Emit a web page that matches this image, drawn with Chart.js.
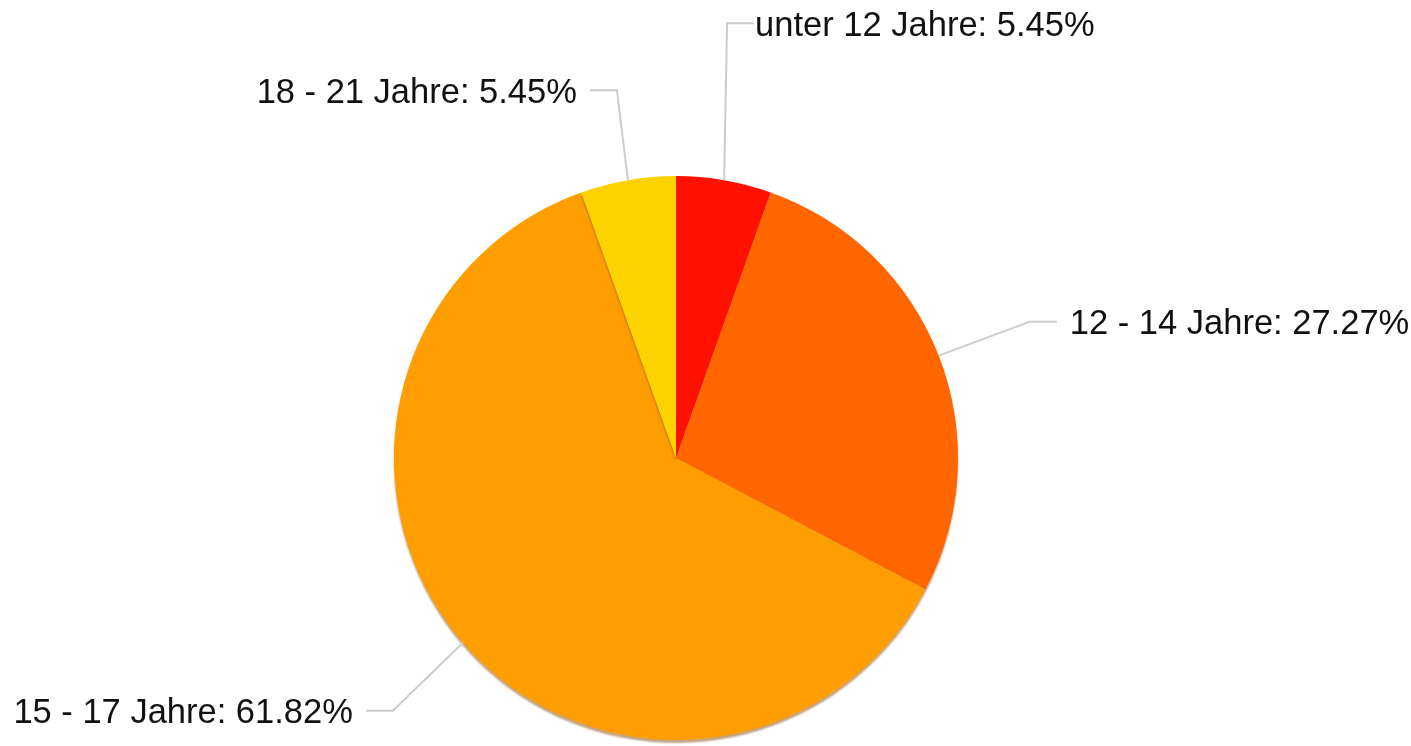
<!DOCTYPE html>
<html>
<head>
<meta charset="utf-8">
<script src="https://cdn.jsdelivr.net/npm/chart.js@4/dist/chart.umd.min.js"></script>
<style>
  html, body { margin: 0; padding: 0; background: #fff; }
  #wrap { width: 1411px; height: 746px; }
</style>
</head>
<body>
<div id="wrap"><canvas id="pie" width="1411" height="746"></canvas></div>
<script>
// counts per age group (55 answers in total)
const categories = ['unter 12 Jahre', '12 - 14 Jahre', '15 - 17 Jahre', '18 - 21 Jahre'];
const counts = [3, 15, 34, 3];
const sliceColors = ['#FF1100', '#FF6600', '#FF9E00', '#FCD200'];

// leader line layout: elbow offset from the slice edge, then gap before the text
const leaderLayout = [
  { dx: 3, dy: -157, gap: 1 },
  { dx: 91, dy: -34, gap: 13 },
  { dx: -70, dy: 68, gap: 13 },
  { dx: -11, dy: -90, gap: 13 },
];

const total = counts.reduce((a, b) => a + b, 0);

function pctText(i) {
  return categories[i] + ': ' + (counts[i] / total * 100).toFixed(2) + '%';
}

const shadowPlugin = {
  id: 'pieShadow',
  beforeDatasetsDraw(chart) {
    const ctx = chart.ctx;
    ctx.save();
    ctx.shadowColor = 'rgba(140,70,0,0.5)';
    ctx.shadowBlur = 2;
    ctx.shadowOffsetX = 0;
    ctx.shadowOffsetY = 3;
  },
  afterDatasetsDraw(chart) {
    chart.ctx.restore();
  }
};

const labelPlugin = {
  id: 'leaderLabels',
  afterDraw(chart) {
    const ctx = chart.ctx;
    const arcs = chart.getDatasetMeta(0).data;
    ctx.save();
    ctx.font = '34.5px "Liberation Sans", Arial, sans-serif';
    ctx.textBaseline = 'middle';
    arcs.forEach((arc, i) => {
      const mid = (arc.startAngle + arc.endAngle) / 2;
      const r = arc.outerRadius;
      const sx = arc.x + Math.cos(mid) * r;
      const sy = arc.y + Math.sin(mid) * r;
      const lay = leaderLayout[i];
      const ex = sx + lay.dx;
      const ey = sy + lay.dy;
      const right = Math.cos(mid) >= 0;
      const hx = ex + (right ? 27 : -27);

      ctx.strokeStyle = '#cccccc';
      ctx.lineWidth = 2;
      ctx.beginPath();
      ctx.moveTo(sx, sy);
      ctx.lineTo(ex, ey);
      ctx.lineTo(hx, ey);
      ctx.stroke();

      ctx.fillStyle = '#111111';
      ctx.textAlign = right ? 'left' : 'right';
      ctx.fillText(pctText(i), hx + (right ? lay.gap : -lay.gap), ey + 3);
    });
    ctx.restore();
  }
};

new Chart(document.getElementById('pie'), {
  type: 'pie',
  data: {
    labels: categories,
    datasets: [{
      data: counts,
      backgroundColor: sliceColors,
      borderWidth: 0,
    }]
  },
  options: {
    responsive: false,
    animation: false,
    layout: { padding: { left: 394, right: 453, top: 176, bottom: 6 } },
    plugins: {
      legend: { display: false },
      tooltip: { enabled: false },
    }
  },
  plugins: [shadowPlugin, labelPlugin]
});
</script>
</body>
</html>
